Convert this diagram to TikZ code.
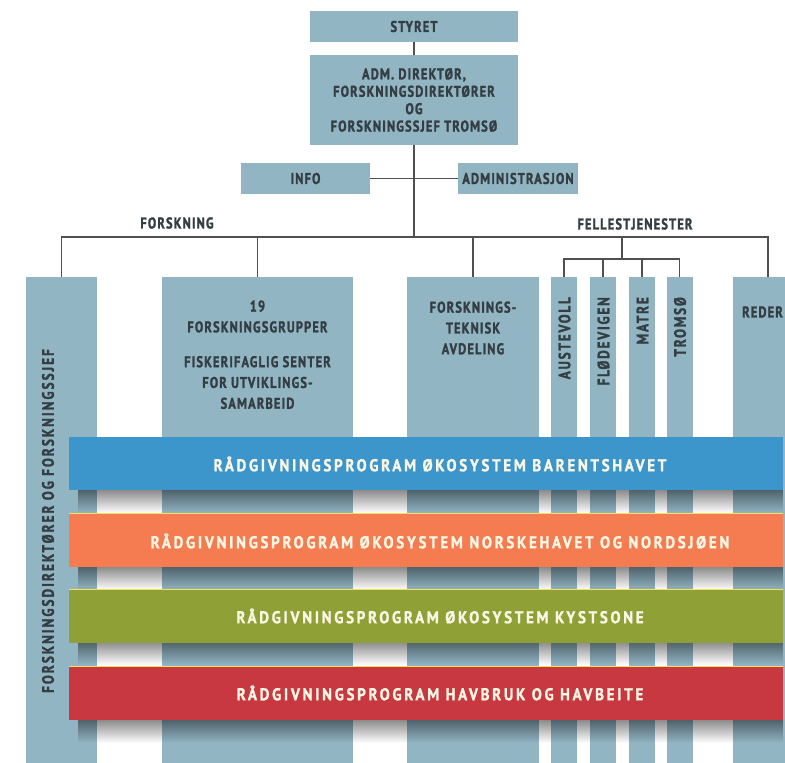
\documentclass[tikz,border=0pt]{standalone}
\usepackage{fontspec}
\setmainfont{PT Sans}
\newfontfamily\boxfont[FakeStretch=0.8,LetterSpace=7.6,FakeBold=1.6]{PT Sans Bold}
\newfontfamily\vfont[FakeStretch=0.8,LetterSpace=11,FakeBold=1.6]{PT Sans Bold}
\newfontfamily\bandfont[FakeStretch=0.88,LetterSpace=16,FakeBold=1.4]{PT Sans Bold}
\usetikzlibrary{fadings}
\definecolor{boxc}{RGB}{146,181,196}
\definecolor{txt}{RGB}{52,62,66}
\definecolor{bandblue}{RGB}{60,150,204}
\definecolor{bandorange}{RGB}{245,124,80}
\definecolor{bandgreen}{RGB}{142,160,54}
\definecolor{bandred}{RGB}{200,56,64}
\definecolor{bandtxt}{RGB}{250,246,228}
\definecolor{linec}{RGB}{80,80,80}
\definecolor{edgey}{RGB}{250,225,90}
\tikzset{
  orgbox/.style={fill=boxc, draw=none, inner sep=0pt, text=txt, align=center,
    font=\boxfont\fontsize{15.5}{17.4}\selectfont},
  col/.style={fill=boxc, draw=none, inner sep=0pt, minimum height=486pt},
  lbl/.style={text=txt, inner sep=0pt, align=center,
    font=\boxfont\fontsize{15.5}{20.8}\selectfont},
  vlbl/.style={text=txt, inner sep=0pt, rotate=90,
    font=\vfont\fontsize{16.5}{18}\selectfont},
  band/.style={draw=none, inner sep=0pt, minimum width=714pt, minimum height=53pt},
  bandlbl/.style={inner sep=0pt, text=bandtxt,
    font=\bandfont\fontsize{17}{18}\selectfont},
  conn/.style={draw=linec, line width=1.2pt},
  shadowstrip/.style={fill=black, opacity=0.45, path fading=south},
}
\begin{document}
\begin{tikzpicture}[x=1pt,y=-1pt]
\clip (0,0) rectangle (785,763);
\fill[white] (0,0) rectangle (785,763);

% top boxes
\node[orgbox, minimum width=208pt, minimum height=31pt] (styret) at (414,26.5) {STYRET};
\node[orgbox, minimum width=208pt, minimum height=90pt] (adm) at (414,100)
  {ADM. DIREKTØR,\\FORSKNINGSDIREKTØRER\\OG\\FORSKNINGSSJEF TROMSØ};
\node[orgbox, minimum width=129pt, minimum height=31pt] (info) at (305.5,178.5) {INFO};
\node[orgbox, minimum width=120pt, minimum height=31pt] (admin) at (518,178.5) {ADMINISTRASJON};

% columns
\node[col, minimum width=71pt] (lcol) at (61.5,520) {};
\node[col, minimum width=191pt] (g19) at (257.5,520) {};
\node[col, minimum width=132pt] (ft) at (473,520) {};
\node[col, minimum width=26pt] (aust) at (564,520) {};
\node[col, minimum width=26pt] (flod) at (603,520) {};
\node[col, minimum width=26pt] (matre) at (642,520) {};
\node[col, minimum width=26pt] (troms) at (679.5,520) {};
\node[col, minimum width=70pt] (reder) at (768,520) {};

% connectors
\coordinate (hub) at (414,237);
\coordinate (fhub) at (622,237);
\coordinate (fsub) at (622,259);
\draw[conn] (styret) -- (adm);
\draw[conn] (adm.south) -- (hub);
\draw[conn] (info.east) -- (admin.west);
\draw[conn] (lcol.north) |- (reder.north |- hub) -- (reder.north);
\draw[conn] (g19.north) -- (g19.north |- hub);
\draw[conn] (ft.north) -- (ft.north |- hub);
\draw[conn] (fhub) -- (fsub);
\draw[conn] (aust.north) |- (troms.north |- fsub) -- (troms.north);
\draw[conn] (flod.north) -- (flod.north |- fsub);
\draw[conn] (matre.north) -- (matre.north |- fsub);

% group labels
\node[lbl] (forskning) at (177,223) {FORSKNING};
\node[lbl] (felles) at (635,224) {FELLESTJENESTER};

% column texts
\node[vlbl, font=\vfont\addfontfeature{LetterSpace=12.5}\fontsize{16.5}{18}\selectfont] (lcoltext) at (48,521) {FORSKNINGSDIREKTØRER OG FORSKNINGSSJEF};
\node[lbl] (g19a) at (257.5,316.5) {19\\FORSKNINGSGRUPPER};
\node[lbl] (g19b) at (257.5,382.5) {FISKERIFAGLIG SENTER\\FOR UTVIKLINGS-\\SAMARBEID};
\node[lbl] (fttext) at (473,328) {FORSKNINGS-\\TEKNISK\\AVDELING};
\node[vlbl, anchor=east] (austtext) at (564.5,297) {AUSTEVOLL};
\node[vlbl, anchor=east] (flodtext) at (603.5,297) {FLØDEVIGEN};
\node[vlbl, anchor=east] (matretext) at (642.5,297) {MATRE};
\node[vlbl, anchor=east] (tromstext) at (680,297) {TROMSØ};
\node[lbl, anchor=east] (redertext) at (783,312) {REDER};

% shadows under bands
\foreach \y in {490,567,642,720} {
  \fill[shadowstrip] (78,\y) rectangle (783,\y+23);
}

% bands
\node[band, fill=bandblue] (b1) at (426,463.5) {};
\node[band, fill=bandorange] (b2) at (426,540.5) {};
\node[band, fill=bandgreen] (b3) at (426,616) {};
\node[band, fill=bandred] (b4) at (426,693.5) {};
\foreach \b in {b2,b3,b4} {
  \draw[edgey, line width=0.8pt] (\b.north west) -- (\b.north east);
}
\node[bandlbl] (b1t) at (440,464) {RÅDGIVNINGSPROGRAM ØKOSYSTEM BARENTSHAVET};
\node[bandlbl] (b2t) at (440,541) {RÅDGIVNINGSPROGRAM ØKOSYSTEM NORSKEHAVET OG NORDSJØEN};
\node[bandlbl] (b3t) at (440,616) {RÅDGIVNINGSPROGRAM ØKOSYSTEM KYSTSONE};
\node[bandlbl] (b4t) at (440,693) {RÅDGIVNINGSPROGRAM HAVBRUK OG HAVBEITE};
\end{tikzpicture}
\end{document}
